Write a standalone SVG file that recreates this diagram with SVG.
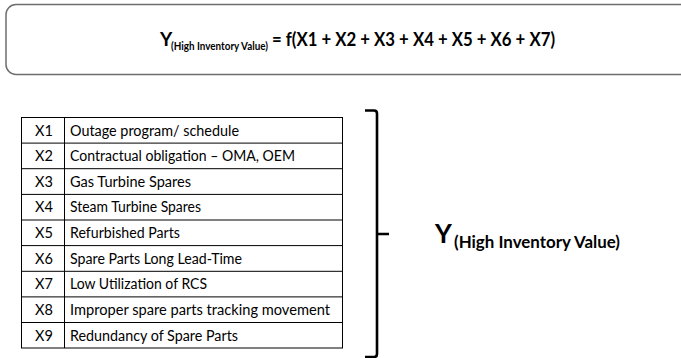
<svg xmlns="http://www.w3.org/2000/svg" width="681" height="358" viewBox="0 0 681 358">
<style>
.t{font-family:Lato,"Liberation Sans",sans-serif;font-size:14.5px;fill:#000}
.b{font-family:Lato,"Liberation Sans",sans-serif;font-weight:bold;fill:#000}
.grid{stroke:#000;stroke-width:1;fill:none}
</style>
<rect width="681" height="358" fill="#fff"/>
<g id="formula">
<rect x="6" y="4.5" width="790" height="70" rx="10" fill="#fff" stroke="#6e6e6e" stroke-width="1.5"/>
<text class="b" x="160" y="46" font-size="19">Y</text>
<text class="b" x="171" y="49.5" font-size="10.5" textLength="97" lengthAdjust="spacingAndGlyphs">(High Inventory Value)</text>
<text class="b" x="272" y="46" font-size="19" textLength="283" lengthAdjust="spacingAndGlyphs">= f(X1 + X2 + X3 + X4 + X5 + X6 + X7)</text>
</g>
<g id="table">
<rect class="grid" x="21.5" y="117.5" width="321" height="230.5"/>
<line class="grid" x1="64.5" y1="117.5" x2="64.5" y2="348"/>
<path class="grid" d="M21.5 143.1H342.5M21.5 168.7H342.5M21.5 194.4H342.5M21.5 220H342.5M21.5 245.6H342.5M21.5 271.3H342.5M21.5 296.9H342.5M21.5 322.5H342.5"/>
<g class="t">
<text x="35" y="135.5">X1</text><text x="70" y="135.5" textLength="169" lengthAdjust="spacingAndGlyphs">Outage program/ schedule</text>
<text x="35" y="161.1">X2</text><text x="70" y="161.1" textLength="225" lengthAdjust="spacingAndGlyphs">Contractual obligation – OMA, OEM</text>
<text x="35" y="186.7">X3</text><text x="70" y="186.7" textLength="121" lengthAdjust="spacingAndGlyphs">Gas Turbine Spares</text>
<text x="35" y="212.4">X4</text><text x="70" y="212.4" textLength="131" lengthAdjust="spacingAndGlyphs">Steam Turbine Spares</text>
<text x="35" y="238">X5</text><text x="70" y="238" textLength="110" lengthAdjust="spacingAndGlyphs">Refurbished Parts</text>
<text x="35" y="263.6">X6</text><text x="70" y="263.6" textLength="172" lengthAdjust="spacingAndGlyphs">Spare Parts Long Lead-Time</text>
<text x="35" y="289.3">X7</text><text x="70" y="289.3" textLength="137" lengthAdjust="spacingAndGlyphs">Low Utilization of RCS</text>
<text x="35" y="314.9">X8</text><text x="70" y="314.9" textLength="260" lengthAdjust="spacingAndGlyphs">Improper spare parts tracking movement</text>
<text x="35" y="340.5">X9</text><text x="70" y="340.5" textLength="168" lengthAdjust="spacingAndGlyphs">Redundancy of Spare Parts</text>
</g>
</g>
<g id="connectors">
<path d="M365 110.5H374Q377 110.5 377 113.5V354Q377 357 374 357H365M377 234H389" fill="none" stroke="#000" stroke-width="2.6"/>
</g>
<g id="result">
<text class="b" x="435" y="243" font-size="26">Y</text>
<text class="b" x="454" y="248" font-size="17" textLength="166" lengthAdjust="spacingAndGlyphs">(High Inventory Value)</text>
</g>
</svg>
